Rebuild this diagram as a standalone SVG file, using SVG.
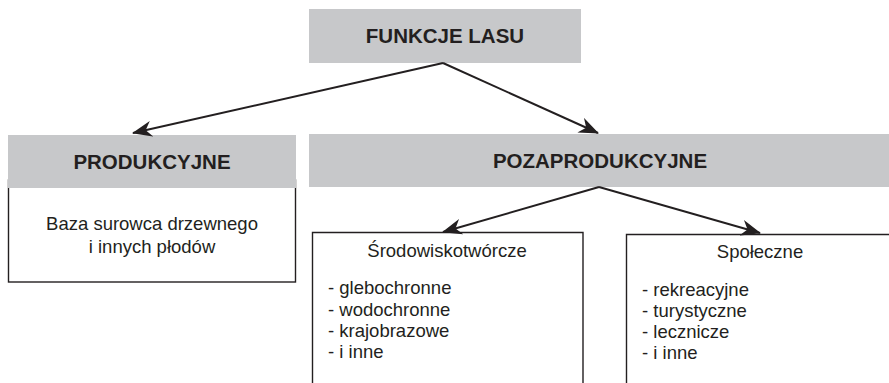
<svg xmlns="http://www.w3.org/2000/svg" width="889" height="383" viewBox="0 0 889 383">
<style>
.hdr{fill:#c7c8ca}
.box{fill:#fff;stroke:#231f20;stroke-width:1.4}
.t{font-family:"Liberation Sans",Arial,sans-serif;fill:#231f20}
.b{font-weight:bold;font-size:20.5px;text-anchor:middle}
.r{font-size:18.5px}
.c{text-anchor:middle}
.arr{stroke:#231f20;stroke-width:2;fill:none;marker-end:url(#ah)}
</style>
<defs>
<marker id="ah" viewBox="0 0 20 16" refX="19" refY="8" markerWidth="20" markerHeight="16" markerUnits="userSpaceOnUse" orient="auto">
<path d="M0,0 L20,8 L0,16 L6,8 z" fill="#231f20"/>
</marker>
</defs>
<rect width="889" height="383" fill="#fff"/>
<g id="funkcje">
<rect class="hdr" x="309" y="9" width="272" height="54"/>
<text class="t b" x="445" y="43">FUNKCJE LASU</text>
</g>
<g id="produkcyjne">
<rect class="box" x="8.5" y="180" width="287" height="102"/>
<rect class="hdr" x="8" y="135" width="288" height="53"/>
<text class="t b" x="152" y="169">PRODUKCYJNE</text>
<text class="t r c" x="152" y="230">Baza surowca drzewnego</text>
<text class="t r c" x="152" y="253">i innych płodów</text>
</g>
<g id="pozaprodukcyjne">
<rect class="hdr" x="309" y="134" width="580" height="53"/>
<text class="t b" x="600" y="168">POZAPRODUKCYJNE</text>
</g>
<g id="srodowiskotworcze">
<path class="box" d="M312.5,384 V232.5 H583 V384"/>
<text class="t r c" x="447" y="257">Środowiskotwórcze</text>
<text class="t r" x="328" y="294">- glebochronne</text>
<text class="t r" x="328" y="316">- wodochronne</text>
<text class="t r" x="328" y="337">- krajobrazowe</text>
<text class="t r" x="328" y="358">- i inne</text>
</g>
<g id="spoleczne">
<path class="box" d="M626.5,384 V234.5 H890"/>
<text class="t r c" x="760" y="258">Społeczne</text>
<text class="t r" x="642" y="296">- rekreacyjne</text>
<text class="t r" x="642" y="317">- turystyczne</text>
<text class="t r" x="642" y="338">- lecznicze</text>
<text class="t r" x="642" y="359">- i inne</text>
</g>
<g id="connectors">
<line class="arr" x1="443" y1="63" x2="133" y2="133"/>
<line class="arr" x1="443" y1="63" x2="598" y2="133"/>
<line class="arr" x1="599" y1="187" x2="443" y2="232"/>
<line class="arr" x1="599" y1="187" x2="760" y2="233"/>
</g>
</svg>
